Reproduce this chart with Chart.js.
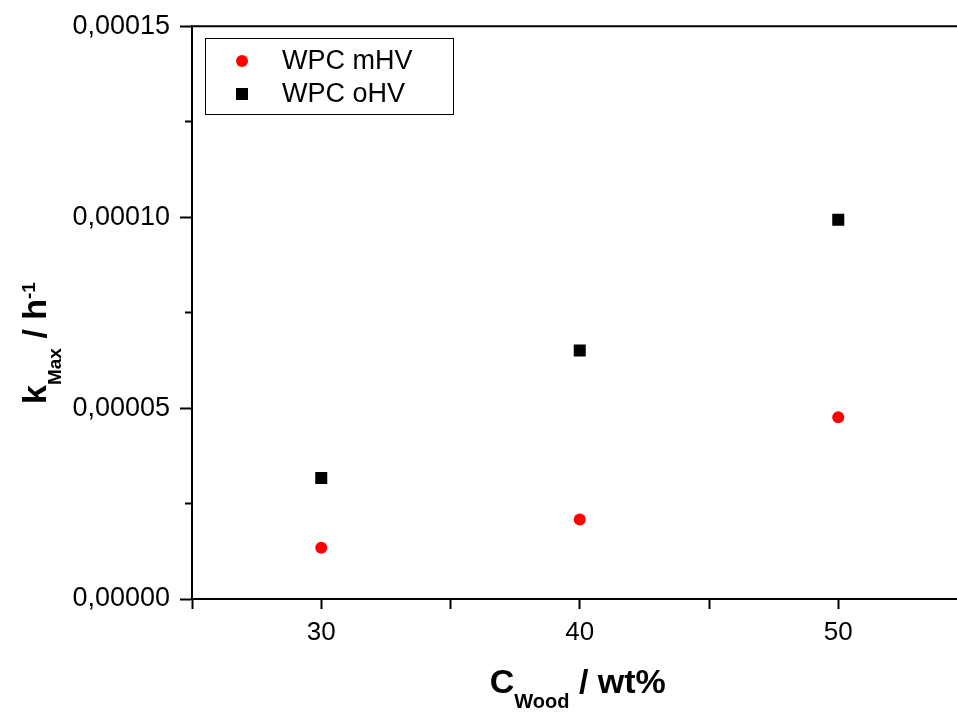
<!DOCTYPE html>
<html>
<head>
<meta charset="utf-8">
<script src="https://cdn.jsdelivr.net/npm/chart.js@4.4.0/dist/chart.umd.min.js"></script>
<style>
  html, body { margin: 0; padding: 0; background: #fff; overflow: hidden; }
  canvas { display: block; }
</style>
</head>
<body>
<canvas id="kmaxChart" width="976" height="713"></canvas>
<script>
const woodContent = [30, 40, 50]
const kMaxWithHV = [1.34e-5, 2.08e-5, 4.76e-5]
const kMaxWithoutHV = [3.17e-5, 6.51e-5, 9.93e-5]
const seriesLabels = ['WPC mHV', 'WPC oHV']
const xTicks = [25, 30, 35, 40, 45, 50, 55]
const yTicks = [0, 0.000025, 0.00005, 0.000075, 0.0001, 0.000125, 0.00015]

const FONT = '"Liberation Sans", Arial, sans-serif'

const isMajorY = v => {
    const q = v / 0.00005
    return Math.abs(q - Math.round(q)) < 1e-6
}



// draws title pieces (main text, sub- and superscripts) one after another
const drawPieces = (ctx, pieces, startX) => {
    let x = startX
    pieces.forEach(p => {
        ctx.font = `bold ${p.size}px ${FONT}`
        ctx.fillText(p.text, x, p.dy)
        x += ctx.measureText(p.text).width
    })
}

const piecesWidth = (ctx, pieces) => pieces.reduce((w, p) => {
    ctx.font = `bold ${p.size}px ${FONT}`
    return w + ctx.measureText(p.text).width
}, 0)



const framePlugin = {
    id: 'frame',
    afterDraw(chart) {
        const { ctx, chartArea: a } = chart
        ctx.save()

        // top + right frame lines
        ctx.strokeStyle = '#000'
        ctx.lineWidth = 2
        ctx.beginPath()
        ctx.moveTo(a.left, a.top)
        ctx.lineTo(a.right, a.top)
        ctx.lineTo(a.right, a.bottom)
        ctx.stroke()

        ctx.fillStyle = '#000'
        ctx.textBaseline = 'alphabetic'
        ctx.textAlign = 'left'

        // x axis title
        const xPieces = [
            { text: 'C', size: 34, dy: 0 },
            { text: 'Wood', size: 20, dy: 15 },
            { text: ' / wt%', size: 34, dy: 0 }
        ]
        const xw = piecesWidth(ctx, xPieces)
        ctx.save()
        ctx.translate((a.left + a.right) / 2 - 2, 693)
        drawPieces(ctx, xPieces, -xw / 2)
        ctx.restore()

        // y axis title
        const yPieces = [
            { text: 'k', size: 34, dy: 0 },
            { text: 'Max', size: 19, dy: 15 },
            { text: ' / h', size: 34, dy: 0 },
            { text: '-1', size: 19, dy: -11 }
        ]
        const yw = piecesWidth(ctx, yPieces)
        ctx.save()
        ctx.translate(46, 343)
        ctx.rotate(-Math.PI / 2)
        drawPieces(ctx, yPieces, -yw / 2)
        ctx.restore()

        // legend box
        ctx.lineWidth = 1
        ctx.strokeRect(205.5, 38.5, 248, 76)
        chart.data.datasets.forEach((ds, i) => {
            const y = 61 + i * 33
            ctx.fillStyle = ds.backgroundColor
            if (ds.pointStyle === 'circle') {
                ctx.beginPath()
                ctx.arc(242, y, 6, 0, Math.PI * 2)
                ctx.fill()
            } else {
                ctx.fillRect(236, y - 6, 12, 12)
            }
            ctx.fillStyle = '#000'
            ctx.font = `27px ${FONT}`
            ctx.fillText(ds.label, 282, y + 8)
        })

        ctx.restore()
    }
}



const renderChart = () => {

    const data = {
        datasets: [{
            label: seriesLabels[0],
            data: woodContent.map((x, i) => ({ x, y: kMaxWithHV[i] })),
            pointStyle: 'circle',
            pointRadius: 6,
            borderWidth: 0,
            backgroundColor: '#ff0000',
            borderColor: '#ff0000'
        }, {
            label: seriesLabels[1],
            data: woodContent.map((x, i) => ({ x, y: kMaxWithoutHV[i] })),
            pointStyle: 'rect',
            pointRadius: 8.5,
            borderWidth: 0,
            backgroundColor: '#000000',
            borderColor: '#000000'
        }]
    }

    const options = {
        responsive: false,
        animation: false,
        events: [],
        layout: {
            padding: { left: 0, top: 26, right: 0, bottom: 0 }
        },
        plugins: {
            legend: { display: false },
            tooltip: { enabled: false }
        },
        scales: {
            x: {
                type: 'linear',
                position: 'bottom',
                min: 25,
                max: 55,
                afterBuildTicks: scale => { scale.ticks = xTicks.map(value => ({ value })) },
                afterFit: scale => { scale.height = 114 },
                ticks: {
                    autoSkip: false,
                    maxRotation: 0,
                    padding: 8,
                    color: '#000',
                    font: { family: FONT, size: 26 },
                    callback: v => v % 10 === 0 ? String(v) : ''
                },
                grid: { drawOnChartArea: false, tickLength: 10, tickWidth: 2, tickColor: '#000' },
                border: { color: '#000', width: 2 }
            },
            y: {
                type: 'linear',
                position: 'left',
                min: 0,
                max: 0.00015,
                afterBuildTicks: scale => { scale.ticks = yTicks.map(value => ({ value })) },
                afterFit: scale => { scale.width = 192 },
                ticks: {
                    autoSkip: false,
                    padding: 10,
                    color: '#000',
                    font: { family: FONT, size: 27 },
                    callback: v => isMajorY(v) ? v.toFixed(5).replace('.', ',') : ''
                },
                grid: {
                    drawOnChartArea: false,
                    tickLength: 12,
                    tickWidth: 2,
                    tickColor: '#000',
                    // minor ticks: skip the outer 5px so they come out shorter
                    tickBorderDash: ctx => ctx.tick && !isMajorY(ctx.tick.value) ? [0, 5, 100] : []
                },
                border: { color: '#000', width: 2 }
            }
        }
    }

    new Chart('kmaxChart', { type: 'scatter', data, options, plugins: [framePlugin] })
}



renderChart()
</script>
</body>
</html>
